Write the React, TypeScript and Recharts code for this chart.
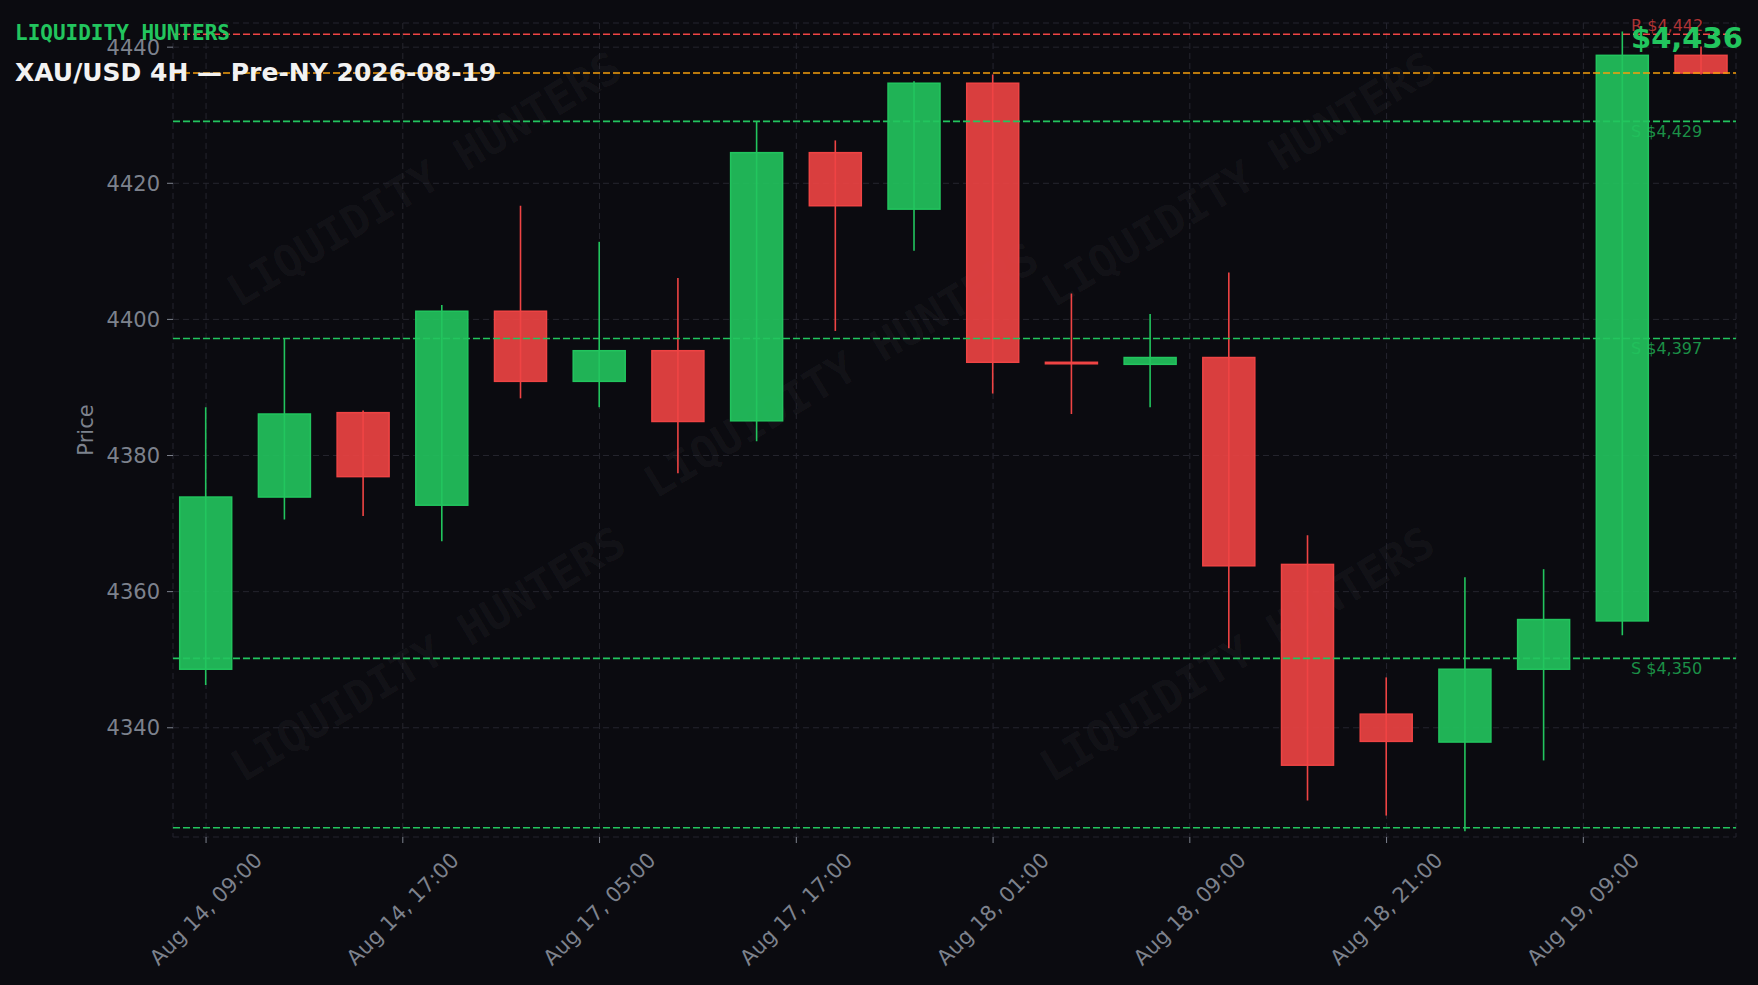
import { ComposedChart, Bar, XAxis, YAxis, CartesianGrid, ReferenceLine } from "recharts";

// candle data (4H, index along the x axis)
const candleIndex = [0, 1, 2, 3, 4, 5, 6, 7, 8, 9, 10, 11, 12, 13, 14, 15, 16, 17, 18, 19];
const opens = [4348.6, 4373.9, 4386.3, 4372.7, 4401.2, 4390.9, 4395.4, 4385.1, 4424.5, 4416.2, 4434.7, 4393.7, 4393.4, 4394.4, 4364.0, 4342.0, 4337.9, 4348.6, 4355.7, 4438.8];
const highs = [4387.1, 4397.2, 4386.6, 4402.1, 4416.7, 4411.4, 4406.1, 4429.1, 4426.3, 4435.0, 4436.0, 4403.8, 4400.8, 4406.9, 4368.3, 4347.4, 4362.1, 4363.3, 4442.3, 4440.1];
const lows = [4346.3, 4370.6, 4371.1, 4367.4, 4388.4, 4387.1, 4377.4, 4382.1, 4398.3, 4410.1, 4389.1, 4386.1, 4387.1, 4351.7, 4329.3, 4327.1, 4324.8, 4335.2, 4353.6, 4436.0];
const closes = [4373.9, 4386.1, 4376.9, 4401.2, 4390.9, 4395.4, 4385.0, 4424.5, 4416.7, 4434.7, 4393.7, 4393.5, 4394.4, 4363.8, 4334.5, 4338.0, 4348.6, 4355.9, 4438.8, 4436.2];

const tickPositions = [0, 2.5, 5, 7.5, 10, 12.5, 15, 17.5];
const tickLabels = ["Aug 14, 09:00", "Aug 14, 17:00", "Aug 17, 05:00", "Aug 17, 17:00", "Aug 18, 01:00", "Aug 18, 09:00", "Aug 18, 21:00", "Aug 19, 09:00"];
const priceTicks = [4340, 4360, 4380, 4400, 4420, 4440];

// support / resistance levels
const levelPrices = [4441.9, 4429.1, 4397.2, 4350.2, 4325.3];
const levelKinds = ["R", "S", "S", "S", ""];
const currentPrice = 4436.2;

const UP = "#22c55e";
const DOWN = "#ef4444";
const BG = "#0b0b10";
const MUTED = "#7d828d";
const FONT = "DejaVu Sans, sans-serif";

const data = candleIndex.map((i, k) => ({
  i,
  range: [lows[k], highs[k]],
  open: opens[k],
  close: closes[k],
  high: highs[k],
  low: lows[k],
}));

const fmt = (v: number) => "$" + Math.round(v).toLocaleString("en-US");

function Candle(props: any) {
  const { x, y, width, height, payload } = props;
  if (!payload) return null;
  const top = Math.min(y, y + height);
  const h = Math.abs(height);
  const ratio = h / (payload.high - payload.low);
  const yOf = (v: number) => top + (payload.high - v) * ratio;
  const up = payload.close >= payload.open;
  const color = up ? UP : DOWN;
  const cx = x + width / 2;
  const bTop = yOf(Math.max(payload.open, payload.close));
  const bBot = yOf(Math.min(payload.open, payload.close));
  return (
    <g>
      <line x1={cx} x2={cx} y1={top} y2={top + h} stroke={color} strokeWidth={1.6} />
      <rect x={x} y={bTop} width={width} height={Math.max(bBot - bTop, 1.5)} fill={color} fillOpacity={0.9} stroke={color} strokeWidth={1.5} />
    </g>
  );
}

function DateTick({ x, y, payload }: any) {
  const label = tickLabels[tickPositions.indexOf(payload.value)];
  const cy = y + 64;
  return (
    <text x={x} y={cy} transform={`rotate(-45, ${x}, ${cy})`} textAnchor="middle" dominantBaseline="central"
      fill={MUTED} fontSize={21} fontFamily={FONT}>
      {label}
    </text>
  );
}

function LevelLabel({ viewBox, text, color, above }: any) {
  if (!text) return null;
  const { x, y, width } = viewBox;
  return (
    <text x={x + width - 105} y={above ? y - 9 : y + 10} fill={color} fillOpacity={0.72} fontSize={16}
      fontFamily={FONT} dominantBaseline="central">
      {text}
    </text>
  );
}

function PriceLabel({ viewBox }: any) {
  const { x, y, width } = viewBox;
  return (
    <text x={x + width - 105} y={y - 35} fill={UP} fontSize={29} fontWeight="bold" fontFamily={FONT} dominantBaseline="central">
      {fmt(currentPrice)}
    </text>
  );
}

const watermarks = [
  [424, 179], [1239, 179], [841, 370], [428, 654], [1237, 654],
];

export default function App() {
  return (
    <div style={{ position: "fixed", left: 0, top: 0, width: 1758, height: 985, background: BG, overflow: "hidden", fontFamily: FONT }}>
      {watermarks.map(([wx, wy], k) => (
        <div key={k} style={{
          position: "absolute", left: wx, top: wy, transform: "translate(-50%, -50%) rotate(-31deg)",
          fontFamily: "DejaVu Sans Mono, monospace", fontWeight: "bold", fontSize: 44, whiteSpace: "nowrap",
          color: "rgba(255,255,255,0.045)",
        }}>LIQUIDITY HUNTERS</div>
      ))}
      <div style={{ position: "absolute", left: 0, top: 0 }}>
        <ComposedChart width={1758} height={985} data={data} margin={{ top: 23, right: 22, bottom: 0, left: 0 }}>
          <CartesianGrid stroke="#25252e" strokeDasharray="6 4" />
          <XAxis dataKey="i" type="number" domain={[-0.42, 19.44]} allowDataOverflow ticks={tickPositions}
            height={148} axisLine={false} tickLine={{ stroke: MUTED }} tickSize={6} interval={0} tick={<DateTick />} />
          <YAxis type="number" domain={[4323.95, 4443.55]} allowDataOverflow ticks={priceTicks} width={173}
            axisLine={false} tickLine={{ stroke: MUTED }} tickSize={6} tickMargin={7}
            tick={{ fill: MUTED, fontSize: 21, fontFamily: FONT }}
            label={(p: any) => {
              const vb = p.viewBox;
              const lx = 86, ly = vb.y + vb.height / 2;
              return (
                <text x={lx} y={ly} transform={`rotate(-90, ${lx}, ${ly})`} textAnchor="middle" dominantBaseline="central"
                  fill={MUTED} fontSize={21} fontFamily={FONT}>Price</text>
              );
            }} />
          <Bar dataKey="range" barSize={52} isAnimationActive={false} shape={(p: any) => <Candle {...p} />} />
          {levelPrices.map((v, k) => {
            const color = levelKinds[k] === "R" ? DOWN : UP;
            return (
              <ReferenceLine key={k} y={v} stroke={color} strokeWidth={1.6} strokeDasharray="7 3"
                label={(p: any) => <LevelLabel viewBox={p.viewBox} color={color} above={levelKinds[k] === "R"}
                  text={levelKinds[k] ? `${levelKinds[k]} ${fmt(v)}` : ""} />} />
            );
          })}
          <ReferenceLine y={currentPrice} stroke="#f59e0b" strokeWidth={1.6} strokeDasharray="7 3"
            label={(p: any) => <PriceLabel viewBox={p.viewBox} />} />
        </ComposedChart>
      </div>
      <div style={{
        position: "absolute", left: 15, top: 33, transform: "translateY(-50%)", color: UP,
        fontFamily: "DejaVu Sans Mono, monospace", fontWeight: "bold", fontSize: 21, whiteSpace: "nowrap",
      }}>LIQUIDITY HUNTERS</div>
      <div style={{
        position: "absolute", left: 15, top: 72, transform: "translateY(-50%)", color: "#f2f2f2",
        fontFamily: FONT, fontWeight: "bold", fontSize: 25, whiteSpace: "nowrap",
      }}>XAU/USD 4H — Pre-NY 2026-08-19</div>
    </div>
  );
}
